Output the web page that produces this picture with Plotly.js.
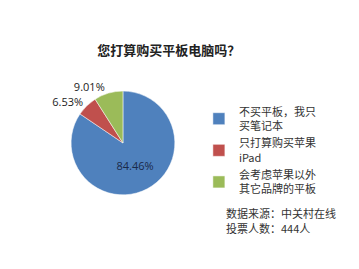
<!DOCTYPE html>
<html><head><meta charset="utf-8">
<script src="https://cdn.plot.ly/plotly-3.0.1.min.js"></script>
<style>html,body{margin:0;padding:0;background:#fff}#c{width:359px;height:269px}</style>
</head><body><div id="c"></div>
<script>
const categories = ["不买平板，我只<br>买笔记本", "只打算购买苹果<br>iPad", "会考虑苹果以外<br>其它品牌的平板"];
const values = [84.46, 6.53, 9.01];
const colors = ["#4F81BD", "#C0504D", "#9BBB59"];
const sourceNote = "数据来源：中关村在线";
const voteNote = "投票人数：444人";
const font = "'Noto Sans CJK SC', 'Microsoft YaHei', sans-serif";

const trace = {
  type: "pie",
  labels: categories,
  values: values,
  sort: false,
  direction: "clockwise",
  rotation: 0,
  marker: {colors: colors, line: {color: "#ffffff", width: 0.5}},
  texttemplate: "%{value:.2f}%",
  textposition: ["inside", "outside", "outside"],
  textfont: {family: "Open Sans, sans-serif", size: 11, color: "#222"},
  insidetextfont: {family: "Open Sans, sans-serif", size: 11, color: "#1a2a4a"},
  outsidetextfont: {family: "Open Sans, sans-serif", size: 11, color: "#222"},
  hoverinfo: "label+value",
  domain: {x: [0.198, 0.487], y: [0.275, 0.662]}
};

const layout = {
  width: 359, height: 269,
  margin: {l: 0, r: 0, t: 0, b: 0},
  paper_bgcolor: "#fff",
  title: {text: "<b>您打算购买平板电脑吗？</b>", x: 0.47, xanchor: "center", y: 0.814, yanchor: "middle",
          font: {family: font, size: 13, color: "#222"}},
  showlegend: true,
  legend: {x: 0.554, y: 0.636, xanchor: "left", yanchor: "top",
           font: {family: font, size: 11, color: "#333"},
           itemwidth: 30, tracegroupgap: 0, bgcolor: "rgba(0,0,0,0)"},
  annotations: [
    {text: sourceNote, x: 0.625, y: 0.21, xref: "paper", yref: "paper", xanchor: "left", yanchor: "middle",
     showarrow: false, font: {family: font, size: 11, color: "#333"}},
    {text: voteNote, x: 0.625, y: 0.151, xref: "paper", yref: "paper", xanchor: "left", yanchor: "middle",
     showarrow: false, font: {family: font, size: 11, color: "#333"}}
  ]
};
Plotly.newPlot("c", [trace], layout, {displayModeBar: false, staticPlot: true});
</script></body></html>
